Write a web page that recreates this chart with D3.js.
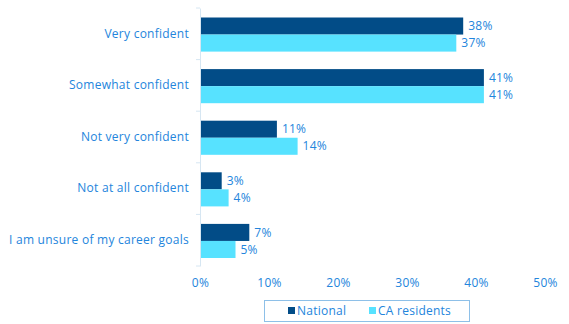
<!DOCTYPE html>
<html><head><meta charset="utf-8">
<script src="https://cdn.jsdelivr.net/npm/d3@7"></script>
<style>body{margin:0;background:#fff}svg{display:block}text{font-family:"Open Sans",sans-serif;letter-spacing:0.25px}</style>
</head><body><svg id="c" width="569" height="324"></svg>
<script>
const categories = ["Very confident","Somewhat confident","Not very confident","Not at all confident","I am unsure of my career goals"];
const seriesNames = ["National","CA residents"];
const national = [38,41,11,3,7];
const caResidents = [37,41,14,4,5];
const xTicks = [0,10,20,30,40,50];
const colors = ["#024c87","#57e2ff"];
const textColor = "#2385dc";

const svg = d3.select("#c");
const x = d3.scaleLinear().domain([0,50]).range([200,545]);
const y = d3.scaleBand().domain(categories).range([8,266]);
const inner = d3.scaleBand().domain(seriesNames).range([9.5, y.bandwidth()-8]);
const vals = [national, caResidents];

// y axis
const yAxis = svg.append("g").attr("transform","translate(200,0)")
  .call(d3.axisLeft(y).tickSize(0).tickPadding(11).tickFormat(d=>d));
yAxis.select(".domain").attr("stroke","#d6e6f2");
yAxis.selectAll("text").attr("fill",textColor).attr("font-size",12);
// boundary ticks
const bounds = categories.map(c=>y(c)).concat([y.range()[1]]);
svg.append("g").selectAll("line").data(bounds).join("line")
  .attr("x1",196).attr("x2",200).attr("y1",d=>d).attr("y2",d=>d)
  .attr("stroke","#d6e6f2");

// bars
categories.forEach((c,i)=>{
  seriesNames.forEach((s,j)=>{
    const v = vals[j][i];
    svg.append("rect").attr("x",x(0)+1).attr("y",y(c)+inner(s))
      .attr("width",x(v)-x(0)).attr("height",inner.bandwidth())
      .attr("fill",colors[j]);
    svg.append("text").attr("x",x(v)+6).attr("y",y(c)+inner(s)+inner.bandwidth()/2)
      .attr("dy","0.35em").attr("fill",textColor).attr("font-size",12).text(v+"%");
  });
});

// x axis
const xAxis = svg.append("g").attr("transform","translate(0,270)")
  .call(d3.axisBottom(x).tickValues(xTicks).tickSize(0).tickPadding(8).tickFormat(d=>d+"%"));
xAxis.select(".domain").remove();
xAxis.selectAll("text").attr("fill",textColor).attr("font-size",12);

// legend
const lg = svg.append("g");
lg.append("rect").attr("x",264.5).attr("y",300.5).attr("width",205).attr("height",21)
  .attr("fill","none").attr("stroke","#8ec0e8");
const lx = [288,369];
seriesNames.forEach((s,j)=>{
  lg.append("rect").attr("x",lx[j]).attr("y",307).attr("width",7).attr("height",7).attr("fill",colors[j]);
  lg.append("text").attr("x",lx[j]+9).attr("y",311).attr("dy","0.35em")
    .attr("fill",textColor).attr("font-size",12).text(s);
});
</script></body></html>
